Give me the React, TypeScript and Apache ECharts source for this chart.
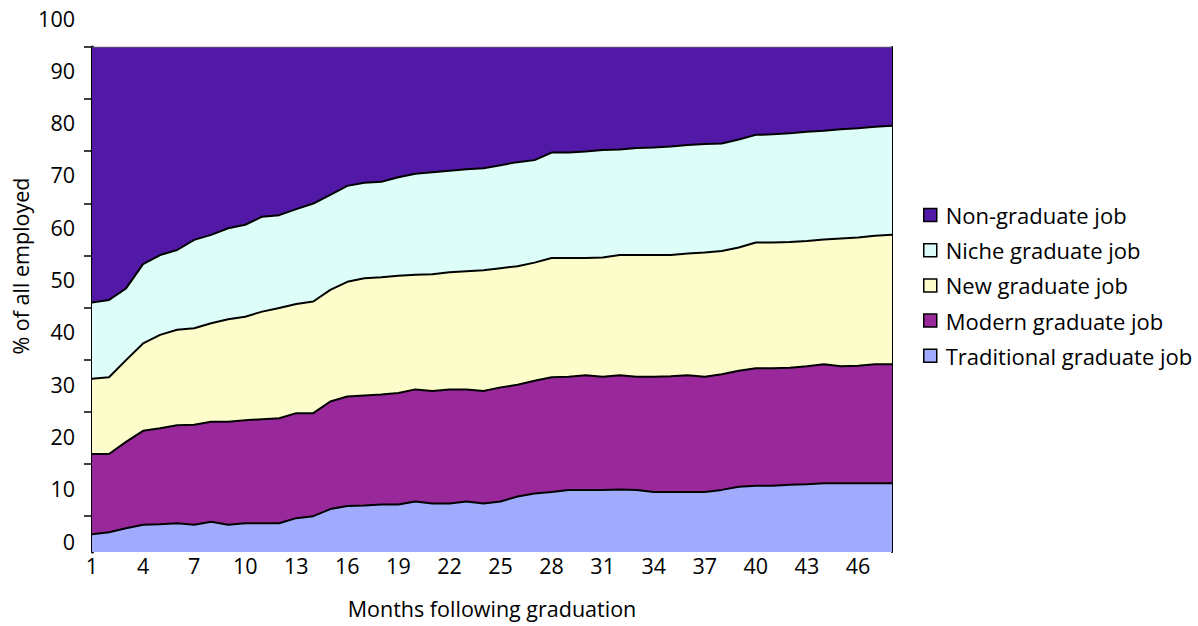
import React, { useEffect, useRef } from "react";
import * as echarts from "echarts";

const months = Array.from({ length: 48 }, (_, i) => String(i + 1));

const traditional = [3.5,3.9,4.7,5.4,5.5,5.7,5.4,6.0,5.4,5.7, 5.7,5.7,6.7,7.1,8.5,9.1,9.2,9.4,9.4,10.0, 9.6,9.6,10.0,9.6,10.0,11.0,11.6,11.9,12.3,12.3, 12.3,12.4,12.3,11.9,11.9,11.9,11.9,12.3,12.9,13.1, 13.1,13.3,13.4,13.6,13.6,13.6,13.6,13.6];
const modern = [15.9,15.5,17.1,18.6,19.0,19.4,19.8,19.8,20.4,20.4, 20.6,20.8,20.8,20.4,21.3,21.7,21.8,21.8,22.1,22.2, 22.3,22.6,22.2,22.3,22.6,22.1,22.3,22.7,22.4,22.7, 22.4,22.6,22.4,22.8,22.9,23.1,22.8,22.9,23.0,23.3, 23.3,23.2,23.4,23.6,23.2,23.3,23.6,23.6];
const newGrad = [14.9,15.2,16.2,17.3,18.5,18.9,19.1,19.5,20.3,20.5, 21.3,21.8,21.6,22.1,22.1,22.7,23.2,23.2,23.2,22.7, 23.1,23.2,23.4,23.9,23.6,23.5,23.4,23.6,23.5,23.2, 23.6,23.8,24.1,24.1,24.0,24.1,24.6,24.4,24.4,24.9, 24.9,24.9,24.8,24.7,25.3,25.4,25.4,25.6];
const niche = [15.1,15.3,14.2,15.7,15.8,15.8,17.5,17.5,18.0,18.2, 18.8,18.4,18.8,19.4,18.8,19.0,18.9,18.9,19.5,20.0, 20.2,20.1,20.2,20.2,20.4,20.6,20.3,20.9,20.9,21.1, 21.3,20.9,21.2,21.3,21.5,21.5,21.5,21.3,21.4,21.3, 21.4,21.5,21.6,21.5,21.6,21.6,21.6,21.6];
const nonGrad = [50.6,50.1,47.8,43.0,41.2,40.2,38.2,37.2,35.9,35.2, 33.6,33.3,32.1,31.0,29.3,27.5,26.9,26.7,25.8,25.1, 24.8,24.5,24.2,24.0,23.4,22.8,22.4,20.9,20.9,20.7, 20.4,20.3,20.0,19.9,19.7,19.4,19.2,19.1,18.3,17.4, 17.3,17.1,16.8,16.6,16.3,16.1,15.8,15.6];

const seriesNames = ["Traditional graduate job", "Modern graduate job", "New graduate job", "Niche graduate job", "Non-graduate job"];
const seriesColors = ["#a0abfd", "#99299b", "#fdfdcc", "#ddfdf8", "#5119a5"];
const legendOrder = ["Non-graduate job", "Niche graduate job", "New graduate job", "Modern graduate job", "Traditional graduate job"];

const FONT = "Open Sans";

export default function App() {
  const ref = useRef<HTMLDivElement>(null);
  useEffect(() => {
    if (!ref.current) return;
    const chart = echarts.init(ref.current, null, { renderer: "svg" });
    const values = [traditional, modern, newGrad, niche, nonGrad];
    const series = values.map((d, i) => ({
      name: seriesNames[i],
      type: "line",
      stack: "total",
      data: d,
      showSymbol: false,
      symbol: "none",
      z: 10 - i,
      itemStyle: { color: seriesColors[i] },
      lineStyle: i === 4 ? { color: "#666", width: 1 } : { color: "#000", width: 2 },
      areaStyle: { color: seriesColors[i], opacity: 1 },
      xAxisIndex: 0,
      yAxisIndex: 0,
    }));
    chart.setOption({
      animation: false,
      backgroundColor: "#fff",
      textStyle: { fontFamily: FONT },
      grid: [
        { left: 92, right: 306, top: 47, bottom: 74 },
        { left: 92, right: 306, top: 18, bottom: 85 },
        { left: 92, right: 306, top: 47, bottom: 110 },
      ],
      xAxis: [
        {
          gridIndex: 0,
          type: "category",
          data: months,
          boundaryGap: false,
          axisLine: { show: false },
          axisTick: { show: false },
          axisLabel: { interval: 2, fontSize: 21.5, fontWeight: 500, color: "#000", margin: 2, fontFamily: FONT },
          splitLine: { show: false },
          name: "Months following graduation",
          nameLocation: "middle",
          nameGap: 45,
          nameTextStyle: { fontSize: 21.5, fontWeight: 500, color: "#000", fontFamily: FONT },
        },
        { gridIndex: 1, type: "value", show: false, min: 0, max: 1 },
        { gridIndex: 2, type: "value", show: false, min: 0, max: 1 },
      ],
      yAxis: [
        {
          gridIndex: 0,
          type: "value",
          min: 0,
          max: 100,
          axisLine: { show: true, lineStyle: { color: "#000", width: 3 } },
          axisTick: { show: false },
          axisLabel: { show: false },
          splitLine: { show: false },
        },
        {
          gridIndex: 0,
          type: "value",
          position: "right",
          min: 0,
          max: 100,
          axisLine: { show: true, lineStyle: { color: "#000", width: 2 } },
          axisTick: { show: false },
          axisLabel: { show: false },
          splitLine: { show: false },
        },
        {
          gridIndex: 1,
          type: "value",
          min: 0,
          max: 100,
          interval: 10,
          axisLine: { show: false },
          axisTick: { show: false },
          splitLine: { show: false },
          axisLabel: { fontSize: 21.5, fontWeight: 500, color: "#000", margin: 17, fontFamily: FONT },
        },
        {
          gridIndex: 2,
          type: "value",
          min: 0,
          max: 90,
          interval: 10,
          axisLine: { show: false },
          axisTick: { show: true, length: 8, lineStyle: { color: "#000", width: 1.5 } },
          axisLabel: { show: false },
          splitLine: { show: false },
        },
      ],
      legend: {
        data: legendOrder,
        orient: "vertical",
        left: 923,
        top: 204,
        padding: 0,
        icon: "rect",
        itemWidth: 13,
        itemHeight: 13,
        itemGap: 13.2,
        itemStyle: { borderColor: "#000", borderWidth: 1.5 },
        textStyle: { fontSize: 22, fontWeight: 500, color: "#000", fontFamily: FONT, lineHeight: 22, padding: [0, 0, 0, 4] },
      },
      graphic: [
        {
          type: "text",
          x: 20,
          y: 266,
          rotation: Math.PI / 2,
          style: {
            text: "% of all employed",
            fontSize: 21.5,
            fontWeight: 500,
            fontFamily: FONT,
            fill: "#000",
            textAlign: "center",
            textVerticalAlign: "middle",
          },
        },
      ],
      series,
    });
    return () => chart.dispose();
  }, []);
  return (
    <div
      ref={ref}
      style={{ position: "absolute", left: 0, top: 0, width: 1198, height: 626 }}
    />
  );
}
